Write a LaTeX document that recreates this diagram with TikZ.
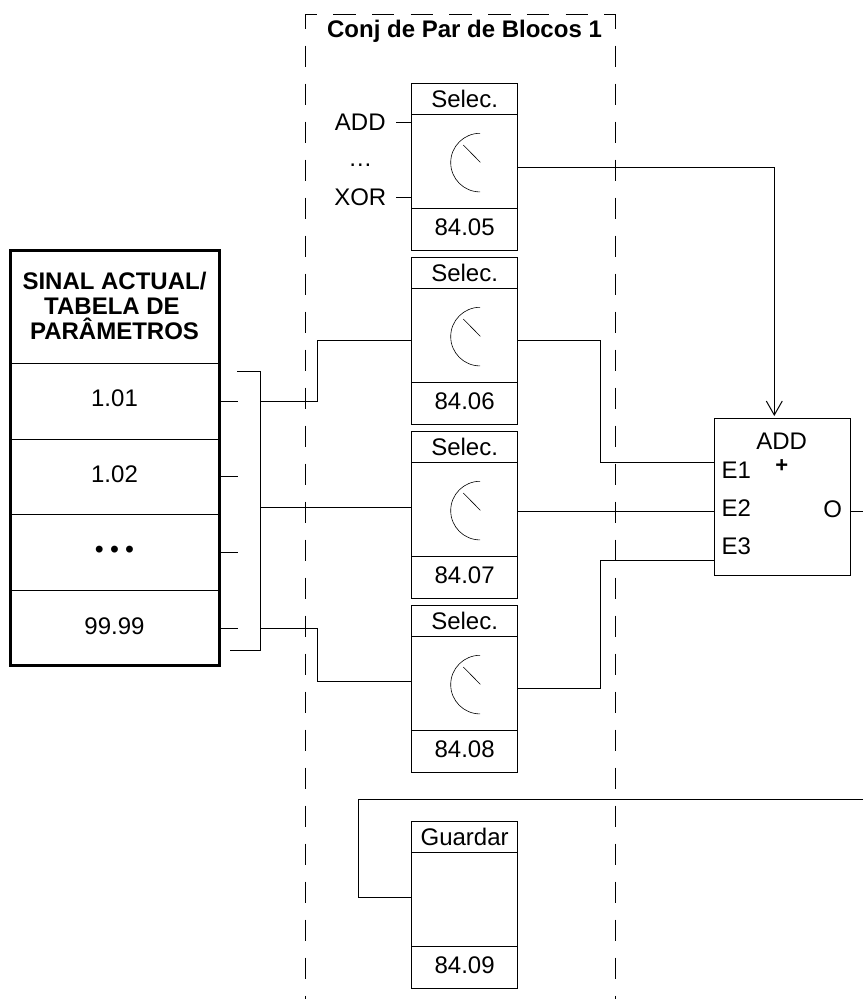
\documentclass[tikz,border=0pt]{standalone}
\usepackage{fontspec}
\setmainfont{Liberation Sans}
\usepackage{tikz}
\usetikzlibrary{arrows.meta,calc}

\begin{document}
\begin{tikzpicture}[
  x=1pt,y=-1pt,
  font=\fontsize{24}{25}\selectfont,
  line width=1pt,
  head/.style={draw,anchor=north,minimum width=105.8,minimum height=31,inner sep=0,outer sep=0},
  dialbox/.style={draw,anchor=north,minimum width=105.8,minimum height=94,inner sep=0,outer sep=0},
  foot/.style={draw,anchor=north,minimum width=105.8,minimum height=42,inner sep=0,outer sep=0,text height=17pt,text depth=4.8pt},
  cell/.style={draw,anchor=north,minimum width=209,inner sep=0,outer sep=0},
  label/.style={anchor=base,inner sep=0,outer sep=0},
  boldlabel/.style={label,font=\fontsize{24}{25}\selectfont\bfseries},
  group/.style={line width=1pt,dash pattern=on 21.5 off 16.5},
  wire/.style={line width=1pt},
  arrow/.style={->,>={Straight Barb[length=14pt,width=16pt,line width=1pt]},line width=1pt}
]
\useasboundingbox (0,0) rectangle (863,999);
% block group
\coordinate (gtl) at (305.5,14.3);
\coordinate (gtr) at (615.3,14.3);
\draw[group,dash phase=6.7] (gtl) -- (305.5,999);
\draw[group,dash phase=6.7] (gtr) -- (615.3,999);
\draw[line width=1pt,dash pattern=on 22.4 off 16.3,dash phase=10.9] (gtl) -- (gtr);
\node[boldlabel] (gtitle) at (464.5,37.5) {Conj de Par de Blocos 1};
% selector blocks
\foreach \n/\top/\val in {5/83.3/84.05,6/257.3/84.06,7/431.3/84.07,8/605.3/84.08}{
  \node[head] (h\n) at (464.6,\top) {Selec.};
  \node[dialbox] (d\n) at (464.6,\top+31) {};
  \node[foot] (p\n) at (464.6,\top+125) {\val};
  \draw[line width=.6pt] ($(d\n.center)+(15.4,-28)$) arc[start angle=90,end angle=270,radius=29.3pt];
  \draw[line width=.6pt] ($(d\n.center)+(-1.3,-16.3)$) -- ($(d\n.center)+(15.7,1)$);
}
\node[head] (h9) at (464.6,821.3) {Guardar};
\node[dialbox] (d9) at (464.6,852.3) {};
\node[foot] (p9) at (464.6,946.3) {84.09};
% inputs of first block
\node[label] (tadd) at (360.3,130) {ADD};
\node[label] (tdots) at (360.3,166) {\ldots};
\node[label] (txor) at (360.3,205) {XOR};
\coordinate (ia) at (396,122.3);
\coordinate (ix) at (396,197.3);
\draw[wire] (ia) -- (ia -| d5.west);
\draw[wire] (ix) -- (ix -| d5.west);
% table
\node[cell,minimum height=112.6] (tt) at (114.5,250.7) {};
\node[cell,minimum height=76] (c1) at (114.5,363.3) {};
\node[cell,minimum height=75] (c2) at (114.5,439.3) {};
\node[cell,minimum height=76] (c3) at (114.5,514.3) {};
\node[cell,minimum height=75.4] (c4) at (114.5,590.3) {};
\draw[line width=3pt] (tt.north west) rectangle (c4.south east);
\node[boldlabel] (t1) at (114.5,289) {SINAL ACTUAL/};
\node[boldlabel] (t2) at (112,314) {TABELA DE};
\node[boldlabel] (t3) at (114.5,339) {PARÂMETROS};
\node[label] at (114.5,406.7) {1.01};
\node[label] at (114.5,482) {1.02};
\node[boldlabel] at (114.5,557) {• • •};
\node[label] at (114.5,634) {99.99};
% bus
\coordinate (bt) at (260,371.7);
\coordinate (bb) at (260,650.7);
\draw[wire] (237,371.7) -- (bt) -- (bb) -- (230,650.7);
\foreach \y in {401.3,476.3,552.3,628.3}
  \draw[wire] (220,\y) -- (238,\y);
\coordinate (i6) at ($(d6.west)+(0,5.5)$);
\coordinate (i7) at (411.7,507.3);
\coordinate (i8) at (411.7,681);
\draw[wire] (260,401.3) -| (317.3,340.8) -- (i6);
\draw[wire] (bt |- i7) -- (i7);
\draw[wire] (260,628.3) -| (317.3,681) -- (i8);
% add block
\node[draw,minimum width=136,minimum height=157,inner sep=0,outer sep=0] (addb) at (782.3,496.8) {};
\node[label] (tadd2) at (781.7,449) {ADD};
\node[boldlabel,font=\fontsize{22}{24}\selectfont\bfseries] (tplus) at (781.7,472.5) {+};
\node[label,anchor=base west] (te1) at (721.7,478) {E1};
\node[label,anchor=base west] (te2) at (721.7,516.7) {E2};
\node[label,anchor=base west] (te3) at (721.7,554) {E3};
\node[label] (to) at (832.7,517) {O};
\coordinate (o5) at (517.5,167.7);
\coordinate (o6) at (517.5,340.3);
\coordinate (o7) at (517.5,511.7);
\coordinate (o8) at (517.5,688.3);
\coordinate (e1) at (714.3,462);
\coordinate (e2) at (714.3,511.7);
\coordinate (e3) at (714.3,560);
\draw[arrow] (o5) -| (774.3,416);
\draw[wire] (o6) -| (600.5,462) -- (e1);
\draw[wire] (o7) -- (e2);
\draw[wire] (o8) -| (600.5,560) -- (e3);
\draw[wire] (addb.east |- e2) -- (863,511.7);
% save loop
\coordinate (lp) at (411.7,897);
\draw[wire] (863,799.3) -| (358.3,897) -- (lp);
\end{tikzpicture}
\end{document}
